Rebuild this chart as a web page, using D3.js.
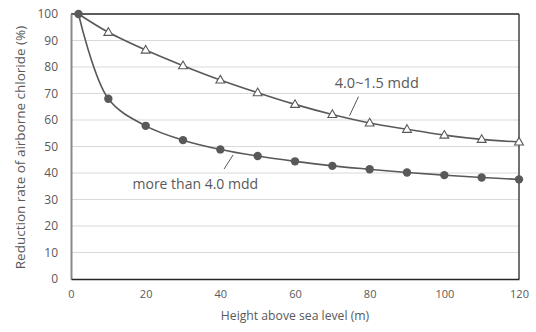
<!DOCTYPE html>
<head>
  <meta charset="utf-8">
  <title>Reduction rate of airborne chloride</title>
  <style>
    body { margin: 0; background: #fff; }
    text { font-family: "Open Sans", sans-serif; fill: #595959; }
  </style>
</head>
<body>
  <svg id="chart" width="536" height="332"></svg>
  <script src="https://d3js.org/d3.v7.min.js"></script>
  <script>
    // data
    var heights = [2, 10, 20, 30, 40, 50, 60, 70, 80, 90, 100, 110, 120];
    var midRange = [100, 93.1, 86.4, 80.5, 75.1, 70.3, 65.9, 62.1, 58.9, 56.5, 54.3, 52.7, 51.7];
    var highRange = [100, 68, 57.8, 52.4, 48.9, 46.4, 44.4, 42.7, 41.4, 40.2, 39.2, 38.3, 37.6];
    var xTicks = [0, 20, 40, 60, 80, 100, 120];
    var yTicks = [0, 10, 20, 30, 40, 50, 60, 70, 80, 90, 100];

    var svg = d3.select("svg"),
        margin = {top: 14, right: 17, bottom: 53, left: 71},
        width = +svg.attr("width") - margin.left - margin.right,
        height = +svg.attr("height") - margin.top - margin.bottom,
        graph = svg.append("g").attr("transform", "translate(" + margin.left + "," + margin.top + ")");

    var x = d3.scaleLinear().domain([0, 120]).range([0, width]);
    var y = d3.scaleLinear().domain([0, 100]).range([height, 0]);

    //gridlines
    graph.append("g")
      .selectAll("line")
      .data(yTicks.slice(1, -1))
      .enter().append("line")
      .attr("x1", 0).attr("x2", width)
      .attr("y1", function(d) { return y(d); })
      .attr("y2", function(d) { return y(d); })
      .attr("stroke", "#d9d9d9")
      .attr("stroke-width", 1);

    //plot border (top, right dark)
    graph.append("line").attr("x1", 0).attr("x2", width).attr("y1", 0).attr("y2", 0)
      .attr("stroke", "#262626").attr("stroke-width", 1.3);
    graph.append("line").attr("x1", width).attr("x2", width).attr("y1", 0).attr("y2", height)
      .attr("stroke", "#262626").attr("stroke-width", 1.3);

    //axes
    var yAxis = graph.append("g")
      .call(d3.axisLeft(y).tickValues(yTicks).tickSize(0).tickPadding(13));
    yAxis.select(".domain").attr("stroke", "#898989").attr("stroke-width", 2);
    yAxis.selectAll("text").style("font-size", "12px");

    var xAxis = graph.append("g")
      .attr("transform", "translate(0," + height + ")")
      .call(d3.axisBottom(x).tickValues(xTicks).tickSize(0).tickPadding(11));
    xAxis.select(".domain").attr("stroke", "#262626").attr("stroke-width", 1.6);
    xAxis.selectAll("text").style("font-size", "11px");

    //axis titles
    svg.append("text")
      .attr("transform", "translate(20," + (margin.top + height / 2 + 1) + ") rotate(-90)")
      .attr("text-anchor", "middle")
      .attr("dy", "0.35em")
      .style("font-size", "13.5px")
      .text("Reduction rate of airborne chloride (%)");

    svg.append("text")
      .attr("x", margin.left + width / 2)
      .attr("y", 320)
      .attr("text-anchor", "middle")
      .style("font-size", "12.2px")
      .text("Height above sea level (m)");

    //lines
    var line = d3.line()
      .x(function(d) { return x(d[0]); })
      .y(function(d) { return y(d[1]); })
      .curve(d3.curveCatmullRom.alpha(0.5));

    var mid = heights.map(function(h, i) { return [h, midRange[i]]; });
    var high = heights.map(function(h, i) { return [h, highRange[i]]; });

    [mid, high].forEach(function(s) {
      graph.append("path")
        .datum(s)
        .attr("d", line)
        .attr("fill", "none")
        .attr("stroke", "#595959")
        .attr("stroke-width", 1.6);
    });

    //triangle markers
    var tri = d3.symbol().type(d3.symbolTriangle).size(34);
    graph.append("g")
      .selectAll("path")
      .data(mid.slice(1))
      .enter().append("path")
      .attr("d", tri)
      .attr("transform", function(d) { return "translate(" + x(d[0]) + "," + (y(d[1]) + 0.5) + ")"; })
      .attr("fill", "#fff")
      .attr("stroke", "#595959")
      .attr("stroke-width", 1.1);

    //circle markers
    graph.append("g")
      .selectAll("circle")
      .data(high)
      .enter().append("circle")
      .attr("cx", function(d) { return x(d[0]); })
      .attr("cy", function(d) { return y(d[1]); })
      .attr("r", 4.2)
      .attr("fill", "#595959");

    //series labels with leader lines
    graph.append("text")
      .attr("x", x(81.9)).attr("y", y(72))
      .attr("text-anchor", "middle")
      .style("font-size", "14.5px")
      .text("4.0~1.5 mdd");
    graph.append("line")
      .attr("x1", x(77)).attr("y1", y(68.8))
      .attr("x2", x(74.6)).attr("y2", y(61.6))
      .attr("stroke", "#595959").attr("stroke-width", 1);

    graph.append("text")
      .attr("x", x(33.3)).attr("y", y(33.9))
      .attr("text-anchor", "middle")
      .style("font-size", "14px")
      .text("more than 4.0 mdd");
    graph.append("line")
      .attr("x1", x(43.4)).attr("y1", y(46.8))
      .attr("x2", x(41)).attr("y2", y(41.5))
      .attr("stroke", "#595959").attr("stroke-width", 1);
  </script>
</body>
